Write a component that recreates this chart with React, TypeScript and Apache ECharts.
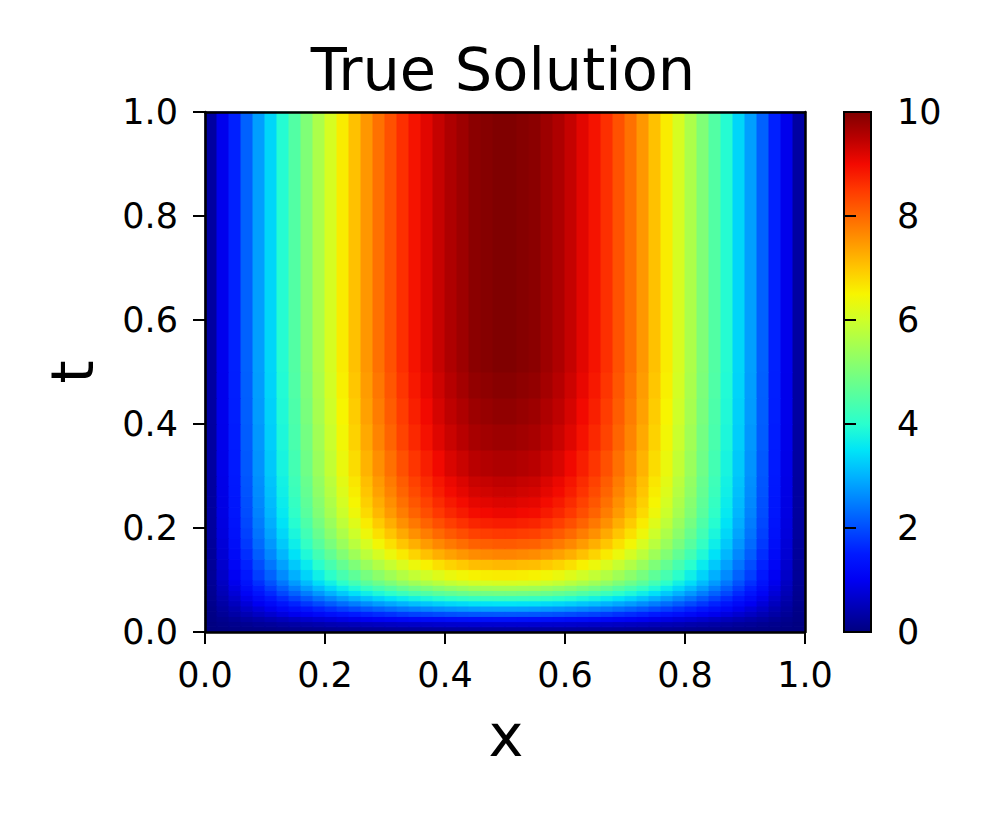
import React, { useEffect, useRef } from "react";
import * as echarts from "echarts";

// Cell edges of the sampled field (x: columns, t: rows)
const xEdges = [
  0, 0.02, 0.04, 0.06, 0.08, 0.1, 0.12, 0.14, 0.16, 0.18, 0.2, 0.22, 0.24, 0.26, 0.28, 0.3, 0.32, 0.34,
  0.36, 0.38, 0.4, 0.42, 0.44, 0.46, 0.48, 0.5, 0.52, 0.54, 0.56, 0.58, 0.6, 0.62, 0.64, 0.66, 0.68, 0.7,
  0.72, 0.74, 0.76, 0.78, 0.8, 0.82, 0.84, 0.86, 0.88, 0.9, 0.92, 0.94, 0.96, 0.98, 1.0,
];
const tEdges = [
  0, 0.01, 0.02, 0.03, 0.04, 0.05, 0.06, 0.07, 0.08, 0.09, 0.1, 0.12, 0.14, 0.16, 0.18, 0.2,
  0.22, 0.24, 0.26, 0.28, 0.3, 0.35, 0.4, 0.45, 0.5, 1.0,
];

// u(x, t): left half (x = 0.01 ... 0.49) of each t band, bottom band first.
// The field is mirror-symmetric about x = 0.5.
const uHalf00 = [0.01, 0.03, 0.05, 0.07, 0.08, 0.1, 0.12, 0.14, 0.15, 0.17, 0.18, 0.2, 0.21, 0.23, 0.24, 0.25, 0.26, 0.27, 0.27, 0.28, 0.29, 0.29, 0.3, 0.3, 0.3];
const uHalf01 = [0.02, 0.07, 0.11, 0.15, 0.2, 0.23, 0.28, 0.32, 0.35, 0.39, 0.43, 0.46, 0.49, 0.53, 0.55, 0.58, 0.6, 0.62, 0.64, 0.66, 0.67, 0.68, 0.69, 0.7, 0.7];
const uHalf02 = [0.04, 0.12, 0.2, 0.29, 0.36, 0.44, 0.51, 0.59, 0.66, 0.73, 0.79, 0.86, 0.92, 0.98, 1.03, 1.07, 1.12, 1.16, 1.19, 1.22, 1.25, 1.27, 1.29, 1.29, 1.3];
const uHalf03 = [0.06, 0.2, 0.33, 0.46, 0.59, 0.7, 0.83, 0.95, 1.06, 1.18, 1.28, 1.39, 1.48, 1.58, 1.66, 1.73, 1.81, 1.87, 1.92, 1.97, 2.02, 2.05, 2.08, 2.09, 2.1];
const uHalf04 = [0.08, 0.27, 0.43, 0.62, 0.78, 0.94, 1.11, 1.26, 1.41, 1.57, 1.71, 1.85, 1.97, 2.1, 2.21, 2.31, 2.41, 2.49, 2.56, 2.63, 2.69, 2.73, 2.77, 2.79, 2.8];
const uHalf05 = [0.11, 0.33, 0.54, 0.77, 0.98, 1.17, 1.38, 1.58, 1.77, 1.96, 2.14, 2.31, 2.47, 2.63, 2.77, 2.89, 3.01, 3.12, 3.2, 3.29, 3.36, 3.41, 3.47, 3.48, 3.5];
const uHalf06 = [0.13, 0.4, 0.65, 0.92, 1.18, 1.41, 1.66, 1.89, 2.12, 2.35, 2.56, 2.77, 2.96, 3.15, 3.32, 3.47, 3.61, 3.74, 3.84, 3.95, 4.03, 4.1, 4.16, 4.18, 4.2];
const uHalf07 = [0.15, 0.47, 0.76, 1.08, 1.37, 1.64, 1.94, 2.21, 2.47, 2.74, 2.99, 3.23, 3.45, 3.68, 3.87, 4.04, 4.21, 4.36, 4.48, 4.61, 4.7, 4.78, 4.85, 4.88, 4.9];
const uHalf08 = [0.17, 0.52, 0.85, 1.21, 1.54, 1.84, 2.17, 2.48, 2.78, 3.08, 3.36, 3.63, 3.88, 4.13, 4.35, 4.54, 4.73, 4.9, 5.03, 5.17, 5.28, 5.36, 5.45, 5.47, 5.5];
const uHalf09 = [0.18, 0.58, 0.95, 1.34, 1.71, 2.04, 2.41, 2.75, 3.08, 3.42, 3.72, 4.03, 4.3, 4.58, 4.82, 5.03, 5.25, 5.43, 5.58, 5.73, 5.86, 5.95, 6.04, 6.07, 6.1];
const uHalf10 = [0.2, 0.63, 1.02, 1.45, 1.85, 2.21, 2.61, 2.97, 3.33, 3.7, 4.03, 4.36, 4.65, 4.95, 5.21, 5.45, 5.68, 5.87, 6.04, 6.2, 6.34, 6.44, 6.53, 6.57, 6.6];
const uHalf11 = [0.21, 0.68, 1.11, 1.57, 2.0, 2.4, 2.82, 3.22, 3.61, 4.0, 4.36, 4.72, 5.04, 5.36, 5.65, 5.9, 6.15, 6.36, 6.54, 6.72, 6.86, 6.97, 7.08, 7.11, 7.15];
const uHalf12 = [0.23, 0.73, 1.19, 1.69, 2.16, 2.58, 3.04, 3.47, 3.89, 4.31, 4.7, 5.08, 5.43, 5.78, 6.08, 6.35, 6.62, 6.85, 7.05, 7.24, 7.39, 7.51, 7.62, 7.66, 7.7];
const uHalf13 = [0.24, 0.77, 1.26, 1.79, 2.28, 2.73, 3.22, 3.67, 4.12, 4.56, 4.97, 5.38, 5.75, 6.11, 6.44, 6.72, 7.01, 7.25, 7.46, 7.66, 7.82, 7.95, 8.07, 8.11, 8.15];
const uHalf14 = [0.26, 0.81, 1.32, 1.87, 2.38, 2.85, 3.36, 3.83, 4.29, 4.76, 5.19, 5.61, 5.99, 6.38, 6.72, 7.01, 7.31, 7.57, 7.78, 7.99, 8.16, 8.29, 8.42, 8.46, 8.5];
const uHalf15 = [0.26, 0.84, 1.36, 1.94, 2.46, 2.95, 3.48, 3.96, 4.44, 4.93, 5.37, 5.81, 6.2, 6.6, 6.95, 7.26, 7.57, 7.83, 8.05, 8.27, 8.45, 8.58, 8.71, 8.76, 8.8];
const uHalf16 = [0.27, 0.86, 1.4, 1.99, 2.53, 3.03, 3.57, 4.07, 4.57, 5.07, 5.52, 5.97, 6.38, 6.79, 7.15, 7.47, 7.78, 8.05, 8.28, 8.51, 8.69, 8.82, 8.96, 9.0, 9.05];
const uHalf17 = [0.28, 0.87, 1.43, 2.02, 2.58, 3.08, 3.63, 4.14, 4.65, 5.15, 5.61, 6.07, 6.49, 6.9, 7.27, 7.59, 7.91, 8.19, 8.42, 8.65, 8.83, 8.97, 9.11, 9.15, 9.2];
const uHalf18 = [0.28, 0.89, 1.45, 2.06, 2.62, 3.13, 3.69, 4.21, 4.72, 5.24, 5.7, 6.17, 6.59, 7.01, 7.39, 7.71, 8.04, 8.32, 8.56, 8.79, 8.98, 9.12, 9.26, 9.3, 9.35];
const uHalf19 = [0.28, 0.9, 1.46, 2.08, 2.65, 3.17, 3.73, 4.25, 4.77, 5.29, 5.76, 6.24, 6.66, 7.09, 7.47, 7.8, 8.13, 8.41, 8.65, 8.88, 9.07, 9.21, 9.36, 9.4, 9.45];
const uHalf20 = [0.29, 0.91, 1.49, 2.11, 2.69, 3.22, 3.79, 4.32, 4.85, 5.38, 5.86, 6.34, 6.77, 7.2, 7.58, 7.92, 8.26, 8.54, 8.78, 9.02, 9.22, 9.36, 9.5, 9.55, 9.6];
const uHalf21 = [0.29, 0.93, 1.51, 2.15, 2.73, 3.27, 3.85, 4.39, 4.92, 5.46, 5.95, 6.44, 6.87, 7.31, 7.7, 8.04, 8.39, 8.68, 8.92, 9.17, 9.36, 9.51, 9.65, 9.7, 9.75];
const uHalf22 = [0.3, 0.94, 1.53, 2.17, 2.76, 3.3, 3.89, 4.43, 4.97, 5.52, 6.01, 6.5, 6.94, 7.39, 7.78, 8.13, 8.47, 8.77, 9.01, 9.26, 9.46, 9.6, 9.75, 9.8, 9.85];
const uHalf23 = [0.3, 0.94, 1.54, 2.18, 2.78, 3.33, 3.92, 4.47, 5.01, 5.56, 6.06, 6.55, 7.0, 7.45, 7.84, 8.19, 8.54, 8.84, 9.09, 9.33, 9.53, 9.68, 9.83, 9.88, 9.93];
const uHalf24 = [0.3, 0.95, 1.55, 2.2, 2.8, 3.35, 3.95, 4.5, 5.05, 5.6, 6.1, 6.6, 7.05, 7.5, 7.9, 8.25, 8.6, 8.9, 9.15, 9.4, 9.6, 9.75, 9.9, 9.95, 10.0];

const uHalfRows = [
  uHalf00, uHalf01, uHalf02, uHalf03, uHalf04, uHalf05, uHalf06, uHalf07, uHalf08, uHalf09,
  uHalf10, uHalf11, uHalf12, uHalf13, uHalf14, uHalf15, uHalf16, uHalf17, uHalf18, uHalf19,
  uHalf20, uHalf21, uHalf22, uHalf23, uHalf24,
];

// Colour bar range
const cbMin = 0;
const cbMax = 10;

// matplotlib "jet" colormap, sampled evenly from 0 to 1
const jetColors = [
  "#000080", "#0000B9", "#0000F3", "#001AFF", "#004DFF", "#0080FF", "#00B3FF",
  "#00E5F7", "#29FFCE", "#52FFA4", "#7BFF7B", "#A4FF52", "#CEFF29", "#F7F500",
  "#FFC600", "#FF9700", "#FF6800", "#FF3900", "#F30900", "#B90000", "#800000",
];

const FONT = '"DejaVu Sans", "Liberation Sans", sans-serif';

export default function App() {
  const ref = useRef<HTMLDivElement>(null);

  useEffect(() => {
    if (!ref.current) return;
    const chart = echarts.init(ref.current, undefined, { renderer: "svg" });

    const cells: number[][] = [];
    for (let j = 0; j < uHalfRows.length; j++) {
      const half = uHalfRows[j];
      const row = half.concat(half.slice().reverse());
      for (let i = 0; i < row.length; i++) {
        cells.push([xEdges[i], xEdges[i + 1], tEdges[j], tEdges[j + 1], row[i]]);
      }
    }

    const tickLabel = { fontFamily: FONT, fontSize: 35, color: "#000" };
    const spine = { show: true, onZero: false, lineStyle: { color: "#000", width: 2.5 } };
    const ticks = { show: true, inside: false, length: 12, lineStyle: { color: "#000", width: 2 } };

    const option: any = {
      animation: false,
      backgroundColor: "#fff",
      grid: [
        { left: 205, top: 112, width: 600, height: 520 },
        { left: 844, top: 112, width: 27, height: 520 },
      ],
      xAxis: [
        {
          type: "value", gridIndex: 0, position: "bottom", min: 0, max: 1, interval: 0.2, z: 10,
          axisLine: spine, axisTick: ticks, splitLine: { show: false },
          axisLabel: { ...tickLabel, margin: 25, formatter: (v: number) => v.toFixed(1) },
        },
        {
          type: "value", gridIndex: 0, position: "top", min: 0, max: 1, z: 10,
          axisLine: spine, axisTick: { show: false }, axisLabel: { show: false }, splitLine: { show: false },
        },
        { type: "value", gridIndex: 1, min: 0, max: 1, show: false },
      ],
      yAxis: [
        {
          type: "value", gridIndex: 0, position: "left", min: 0, max: 1, interval: 0.2, z: 10,
          axisLine: spine, axisTick: ticks, splitLine: { show: false },
          axisLabel: { ...tickLabel, margin: 27, formatter: (v: number) => v.toFixed(1) },
        },
        {
          type: "value", gridIndex: 0, position: "right", min: 0, max: 1, z: 10,
          axisLine: spine, axisTick: { show: false }, axisLabel: { show: false }, splitLine: { show: false },
        },
        {
          type: "value", gridIndex: 1, position: "right", min: cbMin, max: cbMax, interval: 2, z: 10,
          axisLine: { show: false }, axisTick: ticks, splitLine: { show: false },
          axisLabel: { ...tickLabel, margin: 26, formatter: (v: number) => String(v) },
        },
      ],
      visualMap: {
        type: "continuous",
        show: false,
        seriesIndex: 0,
        dimension: 4,
        min: cbMin,
        max: cbMax,
        inRange: { color: jetColors },
      },
      series: [
        {
          type: "custom",
          xAxisIndex: 0,
          yAxisIndex: 0,
          z: 1,
          encode: { x: [0, 1], y: [2, 3] },
          data: cells,
          renderItem: (params: any, api: any) => {
            const p0 = api.coord([api.value(0), api.value(2)]);
            const p1 = api.coord([api.value(1), api.value(3)]);
            const c = api.visual("color");
            return {
              type: "rect",
              shape: { x: p0[0], y: p1[1], width: p1[0] - p0[0], height: p0[1] - p1[1] },
              style: { fill: c, stroke: c, lineWidth: 1 },
            };
          },
        },
        {
          type: "custom",
          xAxisIndex: 2,
          yAxisIndex: 2,
          z: 1,
          encode: { x: [0, 1], y: [2, 3] },
          data: [[0, 1, cbMin, cbMax]],
          renderItem: (params: any, api: any) => {
            const p0 = api.coord([api.value(0), api.value(2)]);
            const p1 = api.coord([api.value(1), api.value(3)]);
            const stops = jetColors.map((c, k) => ({ offset: k / (jetColors.length - 1), color: c }));
            return {
              type: "rect",
              shape: { x: p0[0], y: p1[1], width: p1[0] - p0[0], height: p0[1] - p1[1] },
              style: { fill: new echarts.graphic.LinearGradient(0, 1, 0, 0, stops), stroke: "#000", lineWidth: 2 },
            };
          },
        },
      ],
      graphic: [
        {
          type: "text", x: 503, y: 69, z: 20,
          style: { text: "True Solution", font: `59px ${FONT}`, fill: "#000", textAlign: "center", textVerticalAlign: "middle" },
        },
        {
          type: "text", x: 506, y: 735, z: 20,
          style: { text: "x", font: `59px ${FONT}`, fill: "#000", textAlign: "center", textVerticalAlign: "middle" },
        },
        {
          type: "text", x: 72, y: 372, rotation: Math.PI / 2, z: 20,
          style: { text: "t", font: `59px ${FONT}`, fill: "#000", textAlign: "center", textVerticalAlign: "middle" },
        },
      ],
    };

    chart.setOption(option);
    return () => chart.dispose();
  }, []);

  return (
    <div
      ref={ref}
      style={{ position: "absolute", left: 0, top: 0, width: 997, height: 815, background: "#fff" }}
    />
  );
}
